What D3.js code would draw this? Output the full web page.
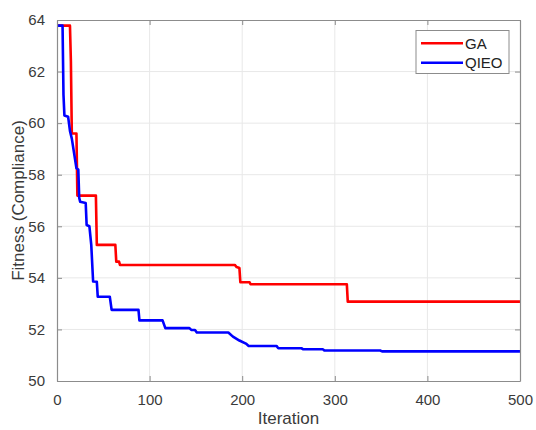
<!DOCTYPE html>
<html>
<head>
<meta charset="utf-8">
<script src="https://cdn.jsdelivr.net/npm/d3@7"></script>
<style>
  body { margin: 0; background: #fff; }
  svg { display: block; font-family: "Liberation Sans", Arial, sans-serif; }
</style>
</head>
<body>
<svg id="chart" width="536" height="430"></svg>
<script>
// ---- data (iteration, fitness) ----
const seriesNames = ["GA", "QIEO"];
const seriesColors = ["#ff0000", "#0000ff"];

const gaIter = [0, 14, 15, 16, 21, 22, 42, 43, 63, 64, 67, 68, 192, 194, 197, 198, 208, 209, 313, 314, 500];
const gaFit  = [63.78, 63.78, 62.4, 59.6, 59.6, 57.19, 57.19, 55.28, 55.28, 54.63, 54.63, 54.5, 54.5, 54.42, 54.38, 53.83, 53.83, 53.75, 53.75, 53.08, 53.08];

const qieoIter = [0, 6, 7, 8, 12, 14, 16, 21, 23, 24, 25, 31, 32, 35, 37, 39, 43, 44, 57, 59, 88, 89, 114, 117, 143, 145, 149, 151, 185, 190, 197, 204, 207, 237, 239, 264, 266, 287, 289, 349, 351, 500];
const qieoFit  = [63.78, 63.78, 61.1, 60.3, 60.25, 59.7, 59.4, 58.25, 58.2, 57.1, 56.95, 56.9, 56.05, 56.0, 55.28, 53.86, 53.85, 53.27, 53.27, 52.76, 52.76, 52.35, 52.35, 52.05, 52.05, 51.98, 51.98, 51.88, 51.88, 51.72, 51.57, 51.45, 51.36, 51.36, 51.27, 51.27, 51.23, 51.23, 51.18, 51.18, 51.15, 51.15];

const xTicks = [0, 100, 200, 300, 400, 500];
const yTicks = [50, 52, 54, 56, 58, 60, 62, 64];

const xLabel = "Iteration";
const yLabel = "Fitness (Compliance)";

// ---- layout ----
const svg = d3.select("#chart");
const L = 57, R = 520, T = 20, B = 381;

const x = d3.scaleLinear().domain([0, 500]).range([L, R]);
const y = d3.scaleLinear().domain([50, 64]).range([B, T]);

const axisColor = "#8c8c8c";
const textColor = "#3a3a3a";

// grid
const grid = svg.append("g");
grid.selectAll(".gx").data(xTicks.slice(1, -1)).enter().append("line")
  .attr("x1", d => x(d)).attr("x2", d => x(d)).attr("y1", T).attr("y2", B)
  .attr("stroke", "#e8e8e8").attr("stroke-width", 1);
grid.selectAll(".gy").data(yTicks.slice(1, -1)).enter().append("line")
  .attr("x1", L).attr("x2", R).attr("y1", d => y(d)).attr("y2", d => y(d))
  .attr("stroke", "#e8e8e8").attr("stroke-width", 1);

// series
const series = [
  gaIter.map((d, i) => [d, gaFit[i]]),
  qieoIter.map((d, i) => [d, qieoFit[i]])
];
const line = d3.line().x(d => x(d[0])).y(d => y(d[1]));
series.forEach((s, i) => {
  svg.append("path").datum(s)
    .attr("d", line)
    .attr("fill", "none")
    .attr("stroke", seriesColors[i])
    .attr("stroke-width", 2.6)
    .attr("stroke-linejoin", "round");
});

// axes (MATLAB box style, inward ticks)
const tickLen = 5;
const bottomAxis = d3.axisBottom(x).tickValues(xTicks).tickSizeInner(-tickLen).tickSizeOuter(0).tickPadding(13);
const leftAxis = d3.axisLeft(y).tickValues(yTicks).tickSizeInner(-tickLen).tickSizeOuter(0).tickPadding(12);
const topAxis = d3.axisTop(x).tickValues(xTicks).tickSizeInner(-tickLen).tickSizeOuter(0).tickFormat("");
const rightAxis = d3.axisRight(y).tickValues(yTicks).tickSizeInner(-tickLen).tickSizeOuter(0).tickFormat("");

function styleAxis(g) {
  g.select(".domain").attr("stroke", axisColor).attr("stroke-width", 1.2);
  g.selectAll(".tick line").attr("stroke", axisColor).attr("stroke-width", 1);
  g.selectAll(".tick text").attr("fill", textColor).style("font-size", "15px")
    .style("font-family", "'Liberation Sans', Arial, sans-serif");
}

svg.append("g").attr("transform", `translate(0,${B})`).call(bottomAxis).call(styleAxis);
svg.append("g").attr("transform", `translate(${L},0)`).call(leftAxis).call(styleAxis);
svg.append("g").attr("transform", `translate(0,${T})`).call(topAxis).call(styleAxis);
svg.append("g").attr("transform", `translate(${R},0)`).call(rightAxis).call(styleAxis);

// axis labels
svg.append("text")
  .attr("x", (L + R) / 2).attr("y", 424)
  .attr("text-anchor", "middle")
  .attr("fill", textColor).style("font-size", "17px")
  .text(xLabel);
svg.append("text")
  .attr("transform", `translate(24,${(T + B) / 2}) rotate(-90)`)
  .attr("text-anchor", "middle")
  .attr("fill", textColor).style("font-size", "17px")
  .text(yLabel);

// legend
const lg = svg.append("g");
lg.append("rect")
  .attr("x", 416).attr("y", 30.5).attr("width", 93).attr("height", 43)
  .attr("fill", "#fff").attr("stroke", axisColor).attr("stroke-width", 1);
seriesNames.forEach((name, i) => {
  const yy = 43.3 + i * 19.5;
  lg.append("line")
    .attr("x1", 421).attr("x2", 463).attr("y1", yy).attr("y2", yy)
    .attr("stroke", seriesColors[i]).attr("stroke-width", 2.6);
  lg.append("text")
    .attr("x", 465).attr("y", yy + 5.3)
    .attr("fill", "#222").style("font-size", "15px")
    .text(name);
});
</script>
</body>
</html>
